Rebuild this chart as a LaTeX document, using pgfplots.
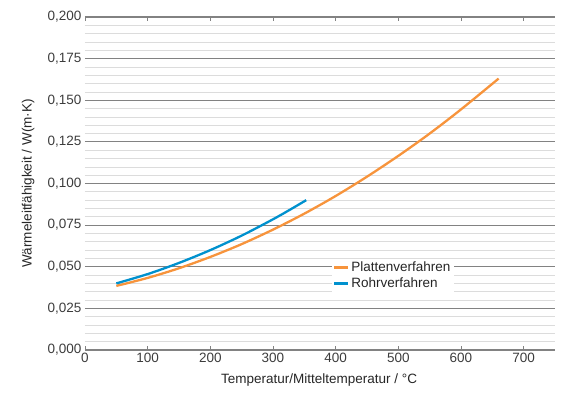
\documentclass[border=0pt]{standalone}
\usepackage{fontspec}
\setmainfont{Liberation Sans}
\usepackage{pgfplots}
\pgfplotsset{compat=1.18}
\definecolor{orangeP}{RGB}{247,148,60}
\definecolor{blueR}{RGB}{0,145,206}
\definecolor{majgrid}{RGB}{130,130,130}
\definecolor{mingrid}{RGB}{220,220,220}
\definecolor{ticktext}{RGB}{60,60,60}
\begin{document}
\begin{tikzpicture}
\path[use as bounding box] (-85pt,-42pt) rectangle (481pt,350pt);
\begin{axis}[
  at={(0pt,0pt)}, anchor=origin,
  scale only axis, width=470pt, height=333pt,
  xmin=0, xmax=750, ymin=0, ymax=0.2,
  xtick={0,100,...,700},
  ytick={0,0.025,...,0.2},
  minor y tick num=4,
  ymajorgrids, yminorgrids,
  major grid style={majgrid, line width=1.2pt},
  minor grid style={mingrid, line width=0.7pt},
  tick align=inside,
  xtick pos=both,
  major tick length=4pt,
  minor tick length=0pt,
  ytick style={draw=none},
  xtick style={majgrid, line width=0.8pt},
  x axis line style={majgrid, line width=1.2pt},
  y axis line style={draw=none},
  tick label style={font=\fontsize{13.5}{15}\selectfont, text=ticktext},
  /pgf/number format/assume math mode=true,
  yticklabel style={/pgf/number format/.cd, fixed, fixed zerofill, precision=3, use comma},
  xticklabel style={/pgf/number format/.cd, fixed, precision=0},
  scaled y ticks=false,
  xlabel={Temperatur/Mitteltemperatur / °C},
  ylabel={Wärmeleitfähigkeit / W(m·K)},
  label style={font=\fontsize{13.5}{15}\selectfont, text=black!85},
  xlabel style={at={(axis description cs:0.498,-0.09)}, anchor=center},
  ylabel style={at={(axis description cs:-0.121,0.5)}, anchor=center},
  legend style={at={(rel axis cs:0.525,0.275)}, anchor=north west, draw=none, fill=white,
    font=\fontsize{13.5}{15}\selectfont, text=black!85, inner sep=1pt, row sep=1pt},
  legend cell align=left,
  legend image code/.code={\draw[#1, line width=2.5pt] (0pt,0pt) -- (14pt,0pt);},
]
\addplot[orangeP, line width=2.3pt, smooth] coordinates {
 (50,0.0385) (100,0.0433) (150,0.0491) (200,0.0559) (250,0.0636) (300,0.0723)
 (350,0.0819) (400,0.0925) (450,0.1041) (500,0.1166) (550,0.1300) (600,0.1445) (660,0.1630)};
\addlegendentry{Plattenverfahren}
\addplot[blueR, line width=2.3pt, smooth] coordinates {
 (50,0.0400) (100,0.0456) (150,0.0523) (200,0.0600) (250,0.0687) (300,0.0785)
 (330,0.0849) (353,0.0900)};
\addlegendentry{Rohrverfahren}
\node[rotate=90, font=\fontsize{6.5}{7}\selectfont, text=black!25] at (rel axis cs:1.013,0.255) {Quelle: FIW München 2017};
\end{axis}
\end{tikzpicture}
\end{document}
